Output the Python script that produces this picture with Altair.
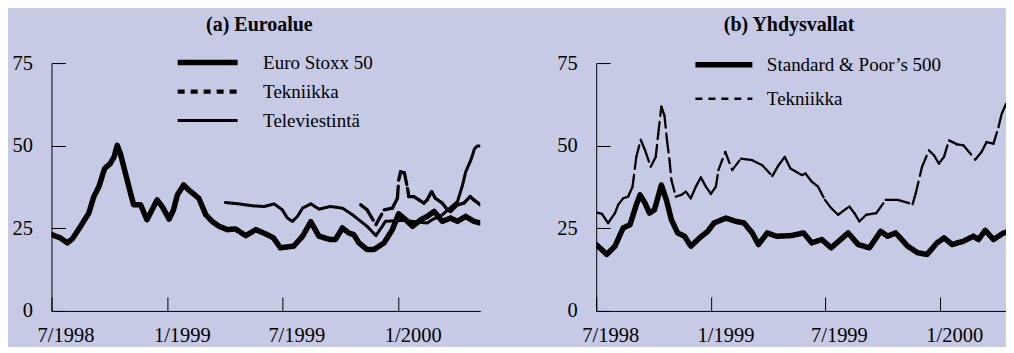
import altair as alt
import pandas as pd

FONT = "Liberation Serif"
BG = "#c6cae4"

# ---------------- (a) Euroalue ----------------
euro_dates = ["1998-07-01", "1998-07-15", "1998-07-26", "1998-08-03", "1998-08-16", "1998-08-29",
              "1998-09-06", "1998-09-14", "1998-09-23", "1998-10-02", "1998-10-08", "1998-10-13",
              "1998-10-18", "1998-10-26", "1998-11-03", "1998-11-08", "1998-11-19", "1998-11-29",
              "1998-12-07", "1998-12-15", "1998-12-23", "1999-01-03", "1999-01-10", "1999-01-16",
              "1999-01-26", "1999-02-03", "1999-02-19", "1999-03-02", "1999-03-12", "1999-03-23",
              "1999-04-05", "1999-04-18", "1999-05-04", "1999-05-20", "1999-06-07", "1999-06-17",
              "1999-06-28", "1999-07-19", "1999-08-02", "1999-08-15", "1999-08-28", "1999-09-15",
              "1999-09-23", "1999-10-04", "1999-10-14", "1999-10-22", "1999-10-30", "1999-11-12",
              "1999-11-23", "1999-12-09", "1999-12-22", "2000-01-01", "2000-01-12", "2000-01-23",
              "2000-02-05", "2000-02-15", "2000-02-26", "2000-03-10", "2000-03-23", "2000-04-03",
              "2000-04-16", "2000-04-29", "2000-05-09"]
euro_vals = [23.1, 22.1, 20.6, 21.8, 25.6, 29.6,
             34.6, 37.6, 43.1, 44.6, 46.6, 50.1,
             47.6, 41.6, 35.6, 32.1, 32.1, 27.6,
             30.6, 33.6, 31.6, 27.8, 30.6, 35.1,
             38.1, 36.6, 34.1, 29.1, 27.1, 25.6,
             24.6, 24.8, 22.8, 24.6, 23.1, 22.1,
             19.1, 19.6, 22.6, 27.0, 22.6, 21.6,
             21.6, 25.1, 23.6, 23.1, 20.6, 18.6,
             18.6, 20.6, 24.6, 29.4, 27.6, 25.6,
             27.6, 28.6, 30.1, 27.1, 28.1, 27.1,
             28.6, 27.1, 26.6]

tele_dates = ["1999-04-02", "1999-04-23", "1999-05-15", "1999-06-02", "1999-06-18", "1999-07-01",
              "1999-07-09", "1999-07-17", "1999-07-25", "1999-08-02", "1999-08-15", "1999-08-28",
              "1999-09-15", "1999-10-04", "1999-10-20", "1999-11-02", "1999-11-12", "1999-11-26",
              "1999-12-06", "1999-12-11", "2000-01-09", "2000-02-15", "2000-02-23", "2000-03-10",
              "2000-04-03", "2000-04-11", "2000-04-16", "2000-04-24", "2000-04-30", "2000-05-04",
              "2000-05-09"]
tele_vals = [32.8, 32.4, 31.8, 31.6, 32.4, 30.6,
             28.1, 27.1, 28.6, 31.1, 32.4, 30.8,
             31.6, 31.1, 29.1, 27.1, 25.6, 22.8,
             25.6, 27.1, 27.4, 26.6, 27.6, 29.1,
             33.1, 38.1, 42.1, 45.6, 49.1, 49.9,
             49.9]

teka_dates = ["1999-11-02", "1999-11-12", "1999-11-26", "1999-12-09", "1999-12-22", "1999-12-30",
              "2000-01-01", "2000-01-04", "2000-01-10", "2000-01-15", "2000-01-17", "2000-01-25",
              "2000-02-02", "2000-02-10", "2000-02-15", "2000-02-22", "2000-02-28", "2000-03-10",
              "2000-03-18", "2000-03-23", "2000-04-03", "2000-04-13", "2000-04-23", "2000-04-29",
              "2000-05-09"]
teka_vals = [32.1, 30.6, 26.1, 30.6, 31.1, 34.1,
             39.6, 42.1, 41.8, 37.1, 34.6, 34.6,
             33.6, 32.6, 33.6, 36.1, 34.1, 32.6,
             30.6, 30.1, 32.1, 32.6, 34.6, 33.6,
             32.1]

# ---------------- (b) Yhdysvallat ----------------
sp_dates = ["1998-07-01", "1998-07-18", "1998-07-31", "1998-08-13", "1998-08-24", "1998-09-03",
            "1998-09-09", "1998-09-17", "1998-09-24", "1998-10-02", "1998-10-13", "1998-10-21",
            "1998-10-29", "1998-11-08", "1998-11-19", "1998-11-29", "1998-12-13", "1998-12-26",
            "1999-01-05", "1999-01-24", "1999-02-09", "1999-02-22", "1999-03-07", "1999-03-17",
            "1999-03-31", "1999-04-15", "1999-05-09", "1999-05-28", "1999-06-10", "1999-06-26",
            "1999-07-11", "1999-08-07", "1999-08-23", "1999-09-10", "1999-09-28", "1999-10-09",
            "1999-10-22", "1999-11-10", "1999-11-26", "1999-12-11", "1999-12-27", "2000-01-07",
            "2000-01-20", "2000-02-07", "2000-02-23", "2000-03-02", "2000-03-13", "2000-03-26",
            "2000-04-11", "2000-04-21"]
sp_vals = [20.1, 17.1, 19.6, 25.1, 26.1, 32.1,
           35.1, 32.6, 29.6, 30.6, 38.1, 33.6,
           27.6, 23.6, 22.6, 19.6, 22.1, 24.1,
           26.6, 28.1, 27.1, 26.6, 23.6, 20.1,
           23.6, 22.6, 22.8, 23.6, 20.6, 21.6,
           19.1, 23.6, 20.1, 19.1, 24.1, 22.6,
           23.6, 19.6, 17.6, 17.1, 20.6, 22.1,
           20.1, 21.1, 22.6, 21.6, 24.4, 21.6,
           23.6, 24.1]

tekb_dates = ["1998-07-01", "1998-07-10", "1998-07-20", "1998-07-31", "1998-08-05", "1998-08-13",
              "1998-08-21", "1998-08-28", "1998-09-03", "1998-09-10", "1998-09-17", "1998-09-26",
              "1998-10-04", "1998-10-08", "1998-10-13", "1998-10-18", "1998-10-22", "1998-10-26",
              "1998-10-29", "1998-11-05", "1998-11-14", "1998-11-21", "1998-11-29", "1998-12-07",
              "1998-12-15", "1998-12-23", "1998-12-31", "1999-01-08", "1999-01-12", "1999-01-23",
              "1999-02-03", "1999-02-17", "1999-03-07", "1999-03-23", "1999-04-08", "1999-04-18",
              "1999-04-28", "1999-05-07", "1999-05-25", "1999-05-31", "1999-06-10", "1999-06-20",
              "1999-07-01", "1999-07-11", "1999-07-22", "1999-08-09", "1999-08-17", "1999-08-25",
              "1999-09-05", "1999-09-21", "1999-10-06", "1999-10-25", "1999-11-18", "1999-11-23",
              "1999-12-03", "1999-12-14", "1999-12-22", "1999-12-30", "2000-01-07", "2000-01-15",
              "2000-01-28", "2000-02-07", "2000-02-26", "2000-03-07", "2000-03-15", "2000-03-26",
              "2000-04-03", "2000-04-08", "2000-04-15", "2000-04-21"]
tekb_vals = [29.8, 29.4, 26.6, 29.6, 32.1, 34.1,
             34.6, 37.6, 46.6, 51.8, 48.6, 43.6,
             46.6, 53.6, 61.8, 59.1, 51.6, 45.6,
             39.6, 34.6, 35.1, 36.1, 34.1, 37.6,
             40.4, 37.6, 35.4, 37.6, 42.6, 48.1,
             42.6, 46.1, 45.6, 44.1, 40.8, 44.1,
             46.6, 43.1, 41.1, 41.6, 39.1, 37.6,
             33.6, 31.1, 29.1, 31.6, 29.6, 27.1,
             29.1, 29.6, 33.6, 33.6, 32.3, 35.6,
             43.6, 48.6, 47.1, 44.6, 46.6, 51.6,
             50.4, 50.1, 45.8, 48.1, 51.1, 50.6,
             55.6, 59.6, 62.6, 62.6]

tick_dates = [(1998, 7), (1999, 1), (1999, 7), (2000, 1)]
y_ticks = [0, 25, 50, 75]

H = 248      # plot height
TICK = 14    # inward tick length


def dt(y, m, d=1):
    return alt.DateTime(year=y, month=m, date=d, utc=True)


def lines_df(pairs):
    frames = []
    for name, dates, vals in pairs:
        frames.append(pd.DataFrame({"date": dates, "value": vals, "series": name}))
    return pd.concat(frames, ignore_index=True)


def seg_df(dates, vals):
    d = pd.DataFrame({"date": dates, "value": vals})
    d["date2"] = d["date"].shift(-1)
    d["value2"] = d["value"].shift(-1)
    return d.dropna()


def panel(title, title_dx, width, end, line_data, tek_segments, names, dashes, widths,
          tek_width, tek_dash, leg_x, leg_y, sym_len, lab_off, clip_h):
    xscale = alt.Scale(type="utc", domain=[dt(1998, 7, 1), end], nice=False)
    yscale = alt.Scale(domain=[0, 75], nice=False, zero=True)
    xaxis = alt.Axis(values=[dt(y, m) for y, m in tick_dates],
                     labelExpr="utcFormat(datum.value, '%-m/%Y')",
                     title=None, ticks=False, labelOffset=14, labelPadding=14.75,
                     labelFlush=False, labelOverlap=False, labelBound=False,
                     grid=True, gridDash=[0, H - TICK, TICK, 1000], gridColor="black",
                     gridOpacity=1, gridWidth=1,
                     domainColor="black", domainWidth=1,
                     labelFont=FONT, labelFontSize=20.5, labelColor="black")
    yaxis = alt.Axis(values=y_ticks, title=None, ticks=False, labelPadding=19,
                     labelFlush=False, labelOverlap=False,
                     grid=True, gridDash=[TICK, 1000], gridColor="black", gridOpacity=1,
                     gridWidth=1, domainColor="black", domainWidth=1,
                     labelFont=FONT, labelFontSize=20.5, labelColor="black")
    legend = alt.Legend(title=None, orient="none", legendX=leg_x, legendY=leg_y,
                        symbolType="stroke", symbolSize=sym_len * sym_len, clipHeight=clip_h,
                        rowPadding=0, padding=0, labelOffset=lab_off, labelLimit=500,
                        labelFont=FONT, labelFontSize=19, labelColor="black",
                        symbolStrokeColor="black", symbolFillColor="black")
    dash_enc = alt.StrokeDash("series:N", scale=alt.Scale(domain=names, range=dashes),
                              legend=legend)
    width_enc = alt.StrokeWidth("series:N", scale=alt.Scale(domain=names, range=widths),
                                legend=legend)
    lines = alt.Chart(line_data).mark_line(color="black", strokeJoin="round",
                                           strokeCap="round", clip=True).encode(
        x=alt.X("date:T", scale=xscale, axis=xaxis),
        y=alt.Y("value:Q", scale=yscale, axis=yaxis),
        strokeDash=dash_enc,
        strokeWidth=width_enc,
    )
    tek = alt.Chart(tek_segments).mark_rule(color="black", strokeDash=tek_dash,
                                            strokeCap="round", clip=True).encode(
        x="date:T", x2="date2:T", y="value:Q", y2="value2:Q",
        strokeWidth=alt.value(tek_width),
    )
    return alt.layer(tek, lines).properties(
        width=width, height=H,
        title=alt.TitleParams(title, font=FONT, fontSize=20, fontWeight="bold", color="black",
                              anchor="middle", frame="group", offset=13, dx=title_dx),
    )


left = panel("(a) Euroalue", -6.5, 429, dt(2000, 5, 9),
             lines_df([("Euro Stoxx 50", euro_dates, euro_vals),
                       ("Televiestintä", tele_dates, tele_vals)]),
             seg_df(teka_dates, teka_vals),
             ["Euro Stoxx 50", "Tekniikka", "Televiestintä"],
             [[1, 0], [7, 6], [1, 0]], [5.5, 3, 1.0], 3.3, [12, 7],
             123.25, -14.75, 60, 22.5, 28.5)

right = panel("(b) Yhdysvallat", -12, 410, dt(2000, 4, 15),
              lines_df([("Standard & Poor’s 500", sp_dates, sp_vals)]),
              seg_df(tekb_dates, tekb_vals),
              ["Standard & Poor’s 500", "Tekniikka"],
              [[1, 0], [7, 6]], [5.5, 2.5], 2.3, [12, 6],
              96.25, -15.1, 57, 11.5, 33.5)

chart = alt.hconcat(left, right, spacing=116, bounds="flush").resolve_scale(
    strokeDash="independent", strokeWidth="independent"
).resolve_legend(
    strokeDash="independent", strokeWidth="independent"
).configure(
    background=BG, padding={"left": 3.5, "top": 6, "right": 0, "bottom": 0}
).configure_title(font=FONT).configure_view(stroke=None)

chart.save("out.html", embed_options={"renderer": "svg", "actions": False})
